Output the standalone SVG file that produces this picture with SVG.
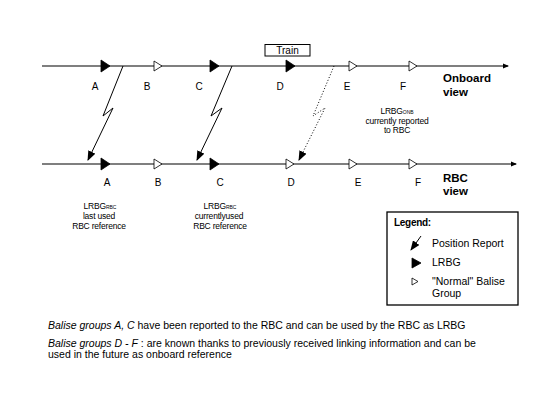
<svg xmlns="http://www.w3.org/2000/svg" width="553" height="402" viewBox="0 0 553 402">
<style>
text{font-family:"Liberation Sans",Arial,sans-serif;fill:#000}
.lbl{font-size:10px;text-anchor:middle}
.view{font-size:11.5px;font-weight:bold}
.note{font-size:8.5px;text-anchor:middle;letter-spacing:-0.2px}
.sub{font-size:5px;letter-spacing:0}
.leg{font-size:10.5px}
.foot{font-size:10.5px}
.track{stroke:#000;stroke-width:1.2;fill:none}
.rep{stroke:#000;stroke-width:1;fill:none}
.fill{fill:#000;stroke:#000;stroke-width:0.8}
.open{fill:#fff;stroke:#000;stroke-width:0.8}
</style>
<defs>
<marker id="endArrow" markerWidth="6" markerHeight="6" refX="5" refY="3" orient="auto" markerUnits="userSpaceOnUse">
<path d="M0,0.5 L6,3 L0,5.5 Z" fill="#000"/>
</marker>
<marker id="repArrow" markerWidth="10" markerHeight="8" refX="9" refY="4" orient="auto" markerUnits="userSpaceOnUse">
<path d="M0,0 L10,4 L0,8 Z" fill="#000"/>
</marker>
</defs>
<rect width="553" height="402" fill="#fff"/>

<g id="connectors">
<line class="track" x1="42" y1="66" x2="508" y2="66" marker-end="url(#endArrow)"/>
<line class="track" x1="42" y1="164" x2="516" y2="164" marker-end="url(#endArrow)"/>
<polyline class="rep" points="123,66 103,116 113,108 88,160" marker-end="url(#repArrow)"/>
<polyline class="rep" points="232,66 211,116 222,108 197,160" marker-end="url(#repArrow)"/>
<polyline class="rep" stroke-dasharray="1,2" points="334,66 313,116 325,108 299,160" marker-end="url(#repArrow)"/>
</g>

<g id="onboard-A"><path class="fill" d="M101,60 L110,66 L101,72 Z"/><text class="lbl" x="95" y="90">A</text></g>
<g id="onboard-B"><path class="open" d="M154,61 L162,66 L154,71 Z"/><text class="lbl" x="147" y="90">B</text></g>
<g id="onboard-C"><path class="fill" d="M210,60 L219,66 L210,72 Z"/><text class="lbl" x="199" y="90">C</text></g>
<g id="onboard-D"><path class="fill" d="M286,60 L295,66 L286,72 Z"/><text class="lbl" x="280" y="90">D</text></g>
<g id="onboard-E"><path class="open" d="M349,61 L357,66 L349,71 Z"/><text class="lbl" x="347" y="90">E</text></g>
<g id="onboard-F"><path class="open" d="M409,61 L417,66 L409,71 Z"/><text class="lbl" x="403" y="90">F</text></g>

<g id="rbc-A"><path class="fill" d="M101,158 L110,164 L101,170 Z"/><text class="lbl" x="107" y="186">A</text></g>
<g id="rbc-B"><path class="open" d="M154,159 L162,164 L154,169 Z"/><text class="lbl" x="158" y="186">B</text></g>
<g id="rbc-C"><path class="fill" d="M210,158 L219,164 L210,170 Z"/><text class="lbl" x="220" y="186">C</text></g>
<g id="rbc-D"><path class="open" d="M286,159 L294,164 L286,169 Z"/><text class="lbl" x="291" y="186">D</text></g>
<g id="rbc-E"><path class="open" d="M349,159 L357,164 L349,169 Z"/><text class="lbl" x="358" y="186">E</text></g>
<g id="rbc-F"><path class="open" d="M409,159 L417,164 L409,169 Z"/><text class="lbl" x="418" y="186">F</text></g>

<g id="train">
<rect x="265" y="44.5" width="45" height="11.5" fill="#fff" stroke="#000" stroke-width="1"/>
<text class="lbl" x="287.5" y="54">Train</text>
</g>

<g id="onboard-view"><text class="view" x="443" y="82">Onboard</text><text class="view" x="443" y="96">view</text></g>
<g id="rbc-view"><text class="view" x="443" y="182">RBC</text><text class="view" x="443" y="195">view</text></g>

<g id="note-onb">
<text class="note" x="397" y="114">LRBG<tspan class="sub">ONB</tspan></text>
<text class="note" x="397" y="124">currently reported</text>
<text class="note" x="397" y="133">to RBC</text>
</g>
<g id="note-rbc-last">
<text class="note" x="100" y="209">LRBG<tspan class="sub">RBC</tspan></text>
<text class="note" x="99" y="219">last used</text>
<text class="note" x="99" y="229">RBC reference</text>
</g>
<g id="note-rbc-current">
<text class="note" x="220" y="209">LRBG<tspan class="sub">RBC</tspan></text>
<text class="note" x="219" y="219">currentlyused</text>
<text class="note" x="220" y="229">RBC reference</text>
</g>

<g id="legend">
<rect x="387" y="212" width="131" height="93" fill="#fff" stroke="#000" stroke-width="1.3"/>
<text x="394" y="226" style="font-size:10px;font-weight:bold;letter-spacing:-0.3px">Legend:</text>
<line class="rep" x1="421" y1="236" x2="411" y2="250" marker-end="url(#repArrow)"/>
<text class="leg" x="432" y="247">Position Report</text>
<path class="fill" d="M412,258 L421,263 L412,268 Z"/>
<text class="leg" x="432" y="266">LRBG</text>
<path class="open" d="M412,278 L418,281.5 L412,285 Z"/>
<text class="leg" x="432" y="285">"Normal" Balise</text>
<text class="leg" x="432" y="297">Group</text>
</g>

<g id="footnotes">
<text class="foot" x="48" y="329"><tspan font-style="italic">Balise groups A, C</tspan> have been reported to the RBC and can be used by the RBC as LRBG</text>
<text class="foot" x="48" y="347"><tspan font-style="italic">Balise groups D - F</tspan> : are known thanks to previously received linking information and can be</text>
<text class="foot" x="48" y="358">used in the future as onboard reference</text>
</g>
</svg>
